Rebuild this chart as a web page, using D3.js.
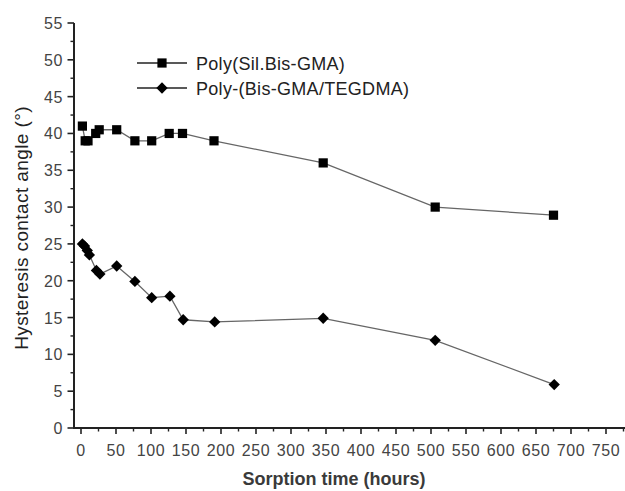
<!DOCTYPE html>
<html><head><meta charset="utf-8">
<script src="https://cdn.jsdelivr.net/npm/d3@7"></script>
<style>
html,body{margin:0;padding:0;background:#fff;}
svg{display:block;font-family:"Liberation Sans",Arial,sans-serif;}
</style></head>
<body>
<svg id="c" width="625" height="491"></svg>
<script>
// Data
const seriesNames = ["Poly(Sil.Bis-GMA)", "Poly-(Bis-GMA/TEGDMA)"];
const silTime   = [2, 6, 10, 21, 26, 51, 77, 101, 126, 145, 190, 346, 506, 675];
const silAngle  = [41.0, 39.0, 39.0, 40.0, 40.5, 40.5, 39.0, 39.0, 40.0, 40.0, 39.0, 36.0, 30.0, 28.9];
const tegTime   = [2, 5, 9, 12, 22, 27, 51, 77, 101, 127, 146, 191, 346, 506, 676];
const tegAngle  = [25.0, 24.7, 24.1, 23.5, 21.4, 20.9, 22.0, 19.9, 17.7, 17.9, 14.7, 14.4, 14.9, 11.9, 5.9];
const xTicks = d3.range(0, 751, 50);
const xMinor = d3.range(25, 776, 50);
const yTicks = d3.range(0, 56, 5);
const yMinor = d3.range(2.5, 55, 5);
const xTitle = "Sorption time (hours)";
const yTitle = "Hysteresis contact angle (°)";

const svg = d3.select("#c");
const x = d3.scaleLinear().domain([0, 750]).range([81, 606]);
const y = d3.scaleLinear().domain([0, 55]).range([428, 23]);
const x0 = x(-10), xEnd = 625, y0 = y(0), yTop = y(55);

const axisCol = "#222";
const tickTextCol = "#444";

// X axis
const gx = svg.append("g");
gx.selectAll("line.maj").data(xTicks).join("line")
  .attr("x1", d => x(d)).attr("x2", d => x(d)).attr("y1", y0).attr("y2", y0 + 6)
  .attr("stroke", axisCol).attr("stroke-width", 1.6);
gx.selectAll("line.min").data(xMinor).join("line").attr("class","min")
  .attr("x1", d => x(d)).attr("x2", d => x(d)).attr("y1", y0).attr("y2", y0 + 3.5)
  .attr("stroke", axisCol).attr("stroke-width", 1.4);
gx.selectAll("text").data(xTicks).join("text")
  .attr("x", d => x(d)).attr("y", y0 + 28)
  .attr("text-anchor", "middle").attr("font-size", 16).attr("letter-spacing", 0.6)
  .attr("fill", tickTextCol).text(d => d);
gx.append("line").attr("x1", x0).attr("x2", xEnd).attr("y1", y0).attr("y2", y0)
  .attr("stroke", axisCol).attr("stroke-width", 2);

// Y axis
const gy = svg.append("g");
gy.selectAll("line.maj").data(yTicks).join("line")
  .attr("x1", x0 - 6.5).attr("x2", x0).attr("y1", d => y(d)).attr("y2", d => y(d))
  .attr("stroke", axisCol).attr("stroke-width", 1.6);
gy.selectAll("line.min").data(yMinor).join("line").attr("class","min")
  .attr("x1", x0 - 3.5).attr("x2", x0).attr("y1", d => y(d)).attr("y2", d => y(d))
  .attr("stroke", axisCol).attr("stroke-width", 1.4);
gy.selectAll("text").data(yTicks).join("text")
  .attr("x", x0 - 11).attr("y", d => y(d) + 6)
  .attr("text-anchor", "end").attr("font-size", 16).attr("letter-spacing", 0.6)
  .attr("fill", tickTextCol).text(d => d);
gy.append("line").attr("x1", x0).attr("x2", x0).attr("y1", yTop).attr("y2", y0 + 1)
  .attr("stroke", axisCol).attr("stroke-width", 2);

// Titles
svg.append("text").attr("x", 334).attr("y", 485).attr("text-anchor", "middle")
  .attr("font-size", 18).attr("font-weight", "bold").attr("fill", "#3a3a3a").text(xTitle);
svg.append("text").attr("transform", "translate(28,228) rotate(-90)")
  .attr("text-anchor", "middle").attr("font-size", 19).attr("letter-spacing", 0.4)
  .attr("fill", "#222").text(yTitle);

// Lines
const line = d3.line().x(d => x(d[0])).y(d => y(d[1]));
const silData = silTime.map((t, i) => [t, silAngle[i]]);
const tegData = tegTime.map((t, i) => [t, tegAngle[i]]);
[silData, tegData].forEach(dat => {
  svg.append("path").datum(dat).attr("d", line)
    .attr("fill", "none").attr("stroke", "#666").attr("stroke-width", 1.3);
});

const sqSym = d3.symbol().type(d3.symbolSquare).size(85);
const diSym = d3.symbol().type(d3.symbolSquare).size(64);
svg.append("g").selectAll("path").data(silData).join("path")
  .attr("transform", d => `translate(${x(d[0])},${y(d[1])})`)
  .attr("d", sqSym).attr("fill", "#000");
svg.append("g").selectAll("path").data(tegData).join("path")
  .attr("transform", d => `translate(${x(d[0])},${y(d[1])}) rotate(45)`)
  .attr("d", diSym).attr("fill", "#000");

// Legend
const leg = svg.append("g");
const legY = [63, 88];
const syms = [sqSym, diSym];
const rots = [0, 45];
seriesNames.forEach((n, i) => {
  leg.append("line").attr("x1", 137).attr("x2", 187).attr("y1", legY[i]).attr("y2", legY[i])
    .attr("stroke", "#222").attr("stroke-width", 1.3);
  leg.append("path").attr("d", syms[i]).attr("transform", `translate(162,${legY[i]}) rotate(${rots[i]})`).attr("fill", "#000");
  leg.append("text").attr("x", 196).attr("y", legY[i] + 6.5).attr("font-size", 18)
    .attr("letter-spacing", 0.3).attr("fill", "#222").text(n);
});
</script>
</body></html>
